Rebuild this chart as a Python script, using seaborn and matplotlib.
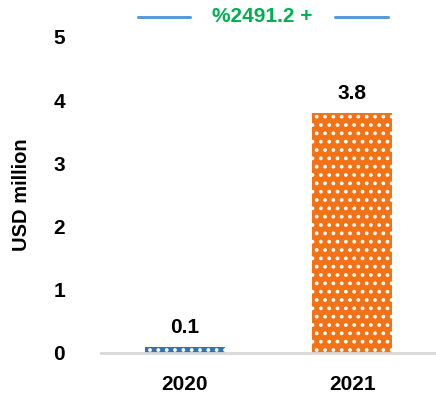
import matplotlib
matplotlib.use("Agg")
import matplotlib.pyplot as plt
import seaborn as sns
from matplotlib.lines import Line2D

# Chart data
years = ["2020", "2021"]
values = [0.1, 3.8]
value_labels = ["0.1", "3.8"]
growth_text = "%2491.2 +"
bar_colors = ["#2E75B6", "#F47216"]

sns.set_style("white")
plt.rcParams['font.family'] = ['Liberation Sans', 'DejaVu Sans']
plt.rcParams['hatch.linewidth'] = 1.5
plt.rcParams['text.color'] = 'black'
plt.rcParams['xtick.color'] = 'black'
plt.rcParams['ytick.color'] = 'black'
plt.rcParams['axes.labelcolor'] = 'black'

fig = plt.figure(figsize=(4.36, 4.0), dpi=100)
ax = fig.add_axes([0.232, 0.1175, 0.768, 0.79])

sns.barplot(x=years, y=values, hue=years, palette=bar_colors, legend=False,
            width=0.48, saturation=1, ax=ax)

# white dot pattern on the bars
for p in ax.patches:
    p.set_hatch("..")
    p.set_edgecolor("white")
    p.set_linewidth(0)

for cont, lab in zip(ax.containers, value_labels):
    ax.bar_label(cont, labels=[lab], padding=7, fontsize=15, fontweight="bold")

ax.set_ylim(0, 5)
ax.set_yticks(range(0, 6))
ax.tick_params(axis="y", length=0, pad=26, labelsize=15)
ax.tick_params(axis="x", length=0, pad=16, labelsize=15)
for t in ax.get_xticklabels() + ax.get_yticklabels():
    t.set_fontweight("bold")

ax.set_ylabel("USD million", fontsize=14.5, fontweight="bold")
ax.yaxis.set_label_coords(-0.21, 0.5)
ax.set_xlabel("")

sns.despine(ax=ax, left=True, top=True, right=True)
ax.spines["bottom"].set_color("#D9D9D9")
ax.spines["bottom"].set_linewidth(2)

# growth annotation at top
fig.text(262 / 436, 1 - 17 / 400, growth_text, color="#00B050", fontsize=15,
         fontweight="bold", ha="center", va="center")
for x0, x1 in [(138, 190), (335, 388)]:
    fig.add_artist(Line2D([x0 / 436, x1 / 436], [1 - 17 / 400, 1 - 17 / 400],
                          color="#5B9BD5", linewidth=2.2))

fig.savefig("out.png", dpi=100)
